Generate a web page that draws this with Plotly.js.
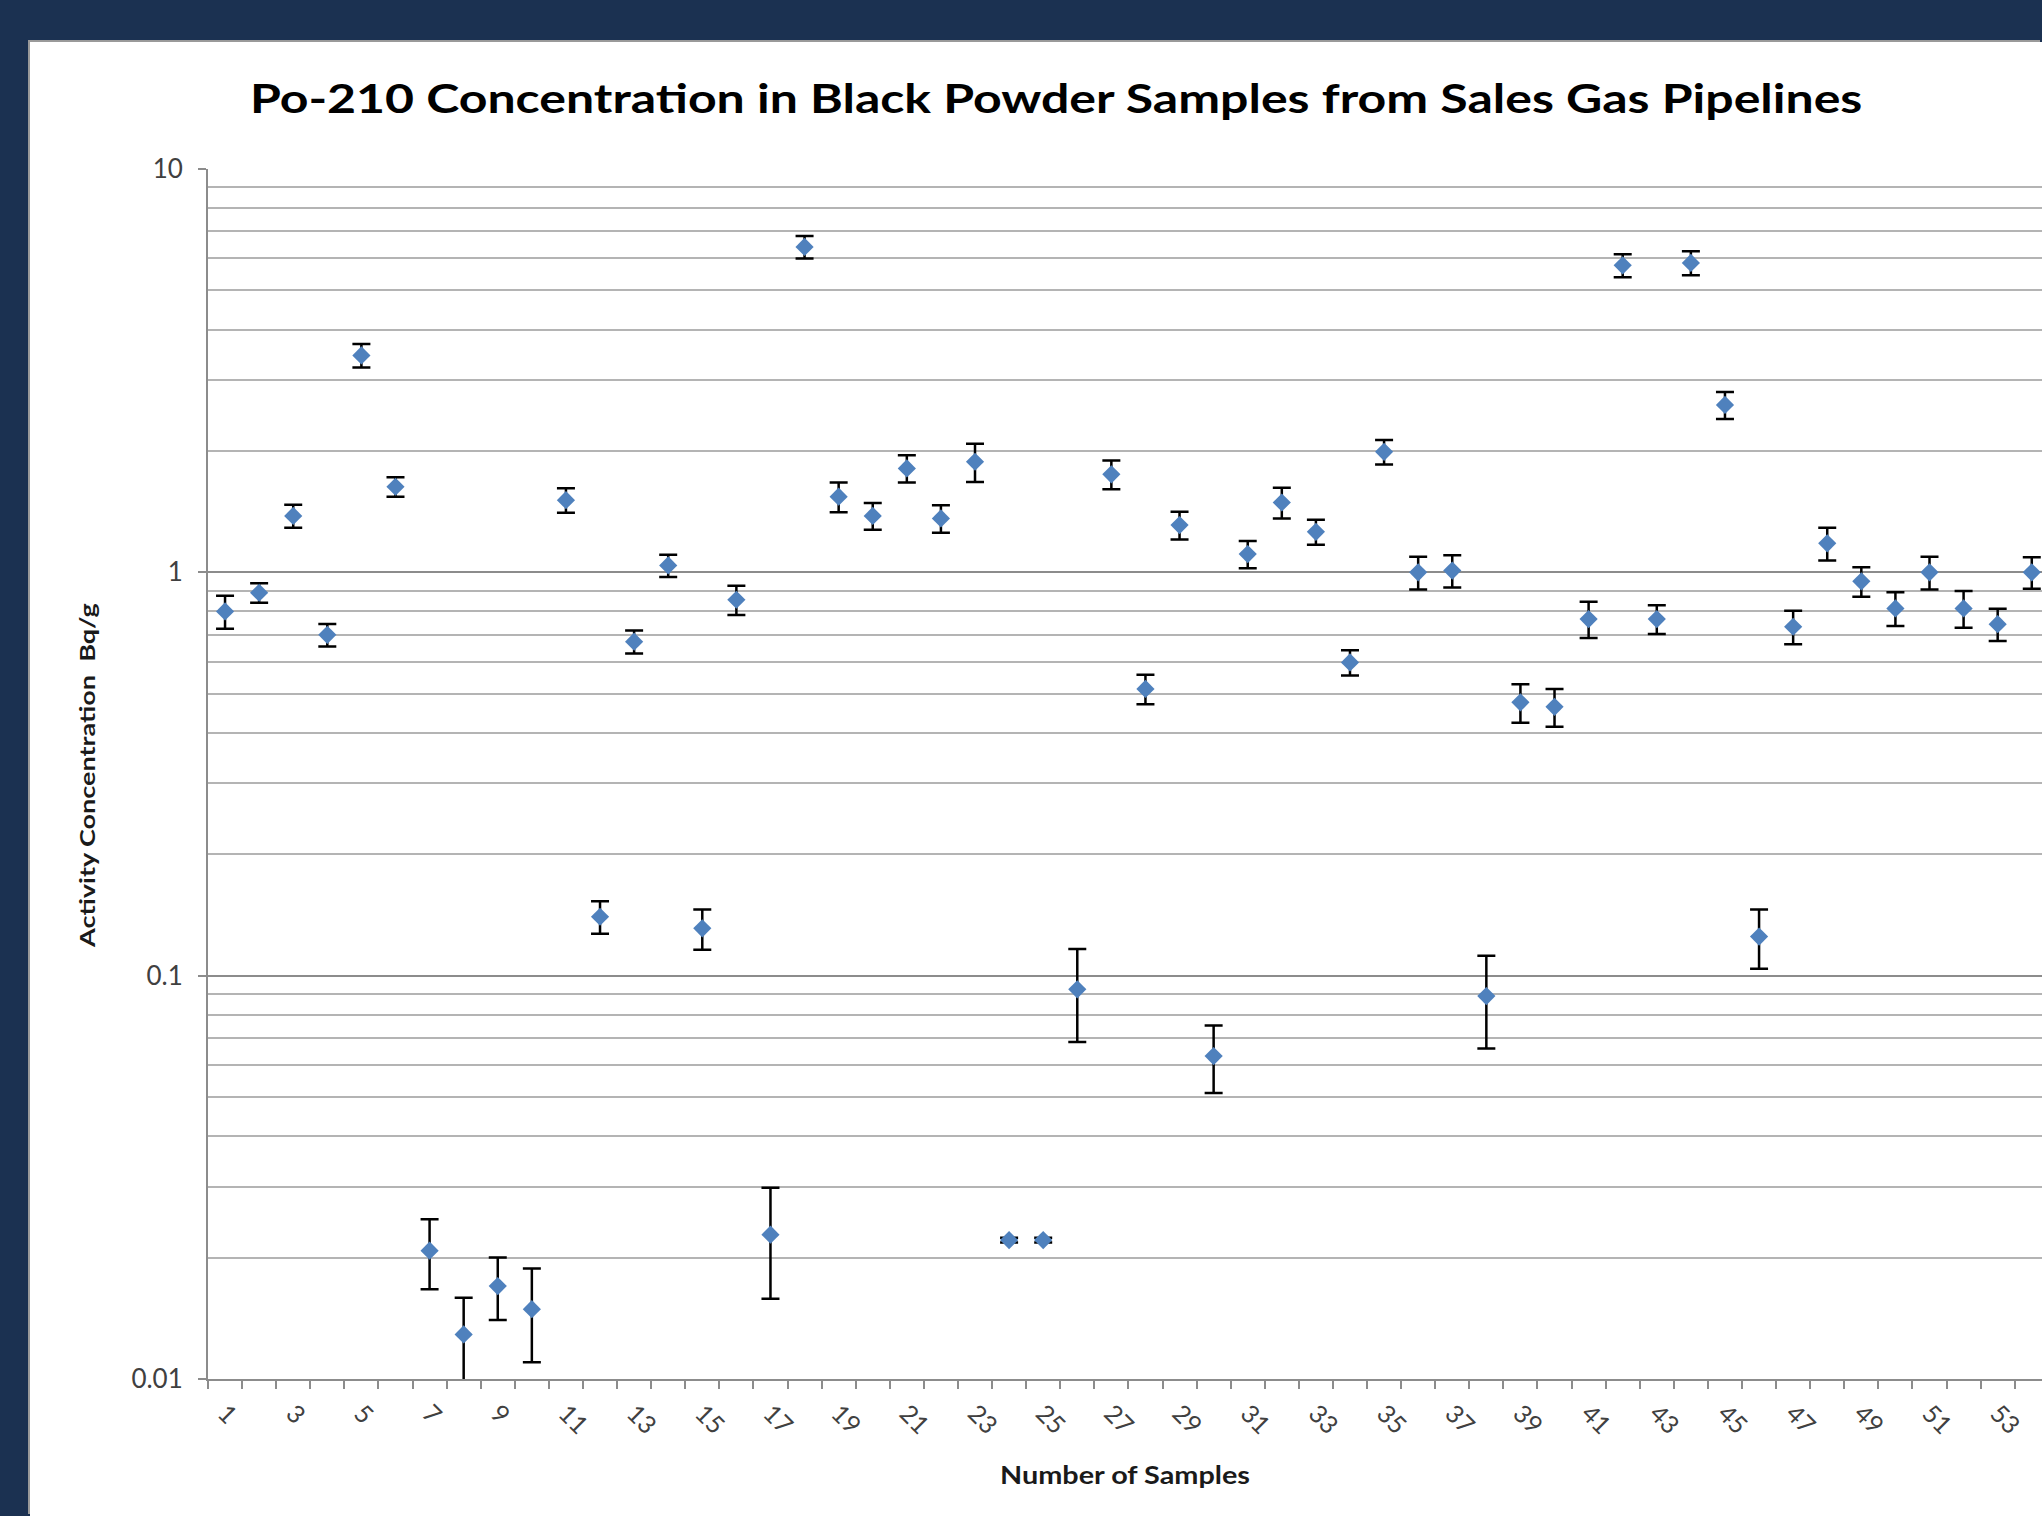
<!DOCTYPE html>
<html>
<head>
<meta charset="utf-8">
<script src="https://cdn.plot.ly/plotly-3.0.1.min.js"></script>
<style>
  html, body { margin: 0; padding: 0; width: 2042px; height: 1516px; overflow: hidden; background: #1b3151; }
  #chart { position: absolute; left: 30px; top: 42px; width: 2012px; height: 1474px; background: #ffffff; box-shadow: -2px -2px 0 #9a9a9a; }
  #chart .gtitle { transform-box: fill-box; transform-origin: center; transform: scaleX(1.25); }
  #chart .xtitle { transform-box: fill-box; transform-origin: center; transform: scaleX(1.2); }
  #chart .ytitle { transform-box: fill-box; transform-origin: center; transform: translate(-8px, 9px) rotate(-90deg) scaleX(1.35); }
</style>
</head>
<body>
<div id="chart"></div>
<script>
// Sample numbers (categories)
const samples = [1,2,3,4,5,6,7,8,9,10,11,12,13,14,15,16,17,18,19,20,21,22,23,24,25,26,27,
                 28,29,30,31,32,33,34,35,36,37,38,39,40,41,42,43,44,45,46,47,48,49,50,51,52,53,54];
// Po-210 activity concentration (Bq/g)
const activity = [0.80,0.89,1.38,0.70,3.45,1.63,0.0208,0.0129,0.0170,0.0149,1.51,0.140,0.673,1.04,0.131,0.855,0.0228,6.41,
                  1.54,1.38,1.81,1.36,1.88,0.0221,0.0221,0.0925,1.75,0.514,1.31,0.0632,1.11,1.49,1.26,0.598,1.99,1.00,
                  1.01,0.089,0.476,0.464,0.766,5.77,0.766,5.85,2.60,0.125,0.733,1.18,0.95,0.814,1.00,0.814,0.744,1.00];
// Uncertainty (Bq/g)
const uncertainty = [0.075,0.05,0.09,0.045,0.23,0.09,0.0041,0.003,0.003,0.0039,0.105,0.013,0.044,0.066,0.015,0.071,0.007,0.41,
                     0.13,0.105,0.14,0.107,0.205,0.0003,0.0003,0.024,0.143,0.043,0.103,0.012,0.086,0.13,0.09,0.043,0.14,0.093,
                     0.093,0.023,0.052,0.05,0.079,0.38,0.063,0.40,0.20,0.021,0.07,0.11,0.08,0.078,0.093,0.085,0.068,0.09];
// Axis tick labels
const yTickVals = [0.01, 0.1, 1, 10];
const yTickText = ['0.01', '0.1', '1', '10'];
const xTickVals = samples.filter(function (s) { return s % 2 === 1; });
const xTickText = xTickVals.map(String);

const titleText = 'Po-210 Concentration in Black Powder Samples from Sales Gas Pipelines';
const xTitle = 'Number of Samples';
const yTitle = 'Activity Concentration  Bq/g';

// log minor gridlines (2..9 in each decade)
const yMinor = [];
[0.01, 0.1, 1].forEach(function (d) { for (let k = 2; k <= 9; k++) yMinor.push(+(d * k).toPrecision(3)); });

const trace = {
  x: samples,
  y: activity,
  type: 'scatter',
  mode: 'markers',
  marker: { symbol: 'diamond', size: 14, color: '#4f81bd', line: { width: 0 } },
  error_y: { type: 'data', array: uncertainty, visible: true, color: '#000000', thickness: 2.5, width: 9 },
  cliponaxis: true,
  hoverinfo: 'x+y'
};

const layout = {
  width: 2012,
  height: 1474,
  paper_bgcolor: '#ffffff',
  plot_bgcolor: '#ffffff',
  margin: { l: 178, r: 0, t: 127, b: 137, pad: 0 },
  showlegend: false,
  font: { family: 'Lato, "Open Sans", sans-serif', color: '#404040' },
  title: {
    text: '<b>' + titleText + '</b>',
    font: { family: 'Lato, "Open Sans", sans-serif', size: 40, color: '#000000' },
    xref: 'container', yref: 'container',
    x: 0.51, xanchor: 'center', y: 0.9613, yanchor: 'middle'
  },
  xaxis: {
    type: 'linear',
    range: [0.5, 54.3],
    tickmode: 'array',
    tickvals: xTickVals,
    ticktext: xTickText,
    tickangle: 45,
    ticks: '',
    ticklabelstandoff: 8,
    tickfont: { size: 25, color: '#404040' },
    showgrid: false,
    zeroline: false,
    showline: true,
    linecolor: '#8c8c8c',
    linewidth: 2,
    minor: { tick0: 0.5, dtick: 1, ticks: 'outside', ticklen: 8, tickwidth: 2, tickcolor: '#8c8c8c', showgrid: false },
    title: { text: '<b>' + xTitle + '</b>', font: { size: 24, color: '#1a1a1a' }, standoff: 29 },
    fixedrange: true
  },
  yaxis: {
    type: 'log',
    range: [-2, 1],
    tickmode: 'array',
    tickvals: yTickVals,
    ticktext: yTickText,
    ticks: 'outside',
    ticklen: 8,
    tickwidth: 2,
    tickcolor: '#8c8c8c',
    ticklabelstandoff: 10,
    tickfont: { size: 26, color: '#404040' },
    showgrid: true,
    gridcolor: '#8c8c8c',
    gridwidth: 2,
    zeroline: false,
    showline: true,
    linecolor: '#8c8c8c',
    linewidth: 2,
    minor: { tickmode: 'array', tickvals: yMinor, ticks: '', showgrid: true, gridcolor: '#b4b4b4', gridwidth: 2 },
    title: { text: '<b>' + yTitle + '</b>', font: { size: 20, color: '#1a1a1a' }, standoff: 30 },
    fixedrange: true
  }
};

Plotly.newPlot('chart', [trace], layout, { displayModeBar: false, staticPlot: true });
</script>
</body>
</html>
